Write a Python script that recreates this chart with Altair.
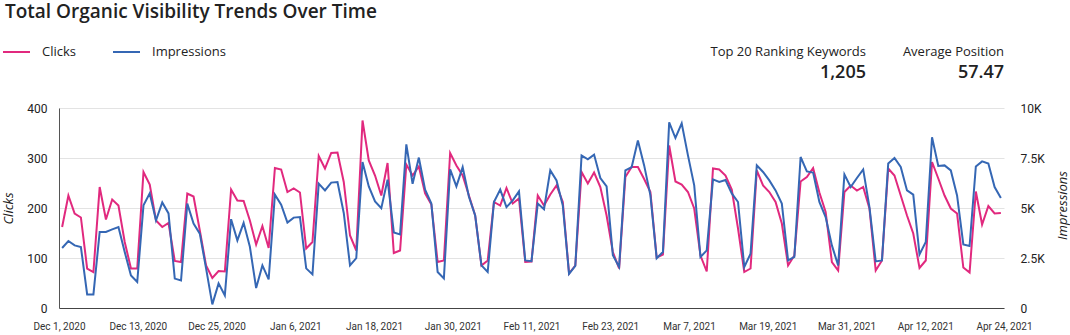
import altair as alt
import pandas as pd

# ---------------- data ----------------
x_labels = ["Dec 1, 2020", "Dec 13, 2020", "Dec 25, 2020", "Jan 6, 2021", "Jan 18, 2021",
            "Jan 30, 2021", "Feb 11, 2021", "Feb 23, 2021", "Mar 7, 2021", "Mar 19, 2021",
            "Mar 31, 2021", "Apr 12, 2021", "Apr 24, 2021"]

clicks = [162, 225, 189, 181, 79, 72, 242, 177, 217, 205, 132, 79, 79, 272, 247,
          175, 162, 170, 94, 92, 229, 223, 155, 85, 60, 74, 73, 237, 215, 214,
          175, 127, 164, 120, 280, 277, 232, 239, 231, 119, 132, 304, 279, 310, 311,
          252, 145, 115, 375, 295, 265, 225, 290, 110, 115, 287, 265, 283, 229, 207,
          92, 95, 310, 285, 265, 225, 185, 85, 95, 212, 205, 240, 209, 219, 92,
          93, 225, 205, 227, 245, 212, 69, 85, 272, 249, 271, 242, 185, 112, 79,
          262, 282, 282, 258, 232, 101, 107, 325, 253, 247, 232, 199, 105, 73, 279,
          277, 265, 237, 159, 72, 79, 275, 245, 232, 212, 169, 85, 105, 253, 262,
          280, 231, 192, 92, 75, 232, 245, 235, 242, 199, 75, 95, 279, 265, 225,
          185, 149, 80, 95, 292, 259, 225, 199, 189, 81, 71, 233, 167, 204, 189,
          190]

impressions = [3000, 3350, 3130, 3050, 680, 680, 3800, 3800, 3930, 4050, 2800, 1630, 1300, 5130, 5730,
               4380, 5280, 4730, 1470, 1380, 5220, 4220, 3720, 1980, 180, 1230, 630, 4440, 3380, 4260,
               3060, 1000, 2130, 1430, 5670, 5170, 4270, 4520, 4550, 1980, 1680, 6220, 5880, 6270, 6300,
               4750, 2130, 2490, 7300, 6080, 5330, 4990, 6420, 3780, 3680, 8180, 6210, 7520, 5920, 5220,
               1800, 1480, 6930, 6080, 7040, 5560, 4630, 2130, 1800, 5300, 5920, 5040, 5380, 5830, 2380,
               2340, 5220, 4940, 6880, 6380, 5130, 1710, 2110, 7630, 7430, 7670, 6500, 6080, 2640, 2050,
               6880, 7040, 8380, 7130, 5630, 2490, 2800, 9280, 8500, 9230, 7630, 6130, 2550, 2880, 6430,
               6300, 6400, 5730, 5300, 2050, 2710, 7130, 6800, 6380, 5880, 5220, 2380, 2550, 7550, 6830,
               6770, 5300, 4550, 3130, 2130, 6680, 6050, 6500, 6930, 5040, 2330, 2380, 7230, 7500, 7050,
               5880, 5670, 2680, 3300, 8540, 7100, 7130, 6880, 5630, 3180, 3100, 7080, 7330, 7220, 6050,
               5500]

series_names = ["Clicks", "Impressions"]
series_colors = ["#e1297e", "#3567b4"]

title_text = "Total Organic Visibility Trends Over Time"
kpi_labels = ["Top 20 Ranking Keywords", "Average Position"]
kpi_values = ["1,205", "57.47"]

# ---------------- table ----------------
n = len(clicks)
dates = pd.date_range("2020-12-01", periods=n, freq="D")
df = pd.DataFrame({
    "day": list(range(n)),
    "date": dates.strftime("%b %-d, %Y"),
    "clicks": clicks,
    "impressions": impressions,
})

W, H = 945, 200
FONT = "Open Sans"
AXFONT = "Roboto"
TXT = "#222222"

tick_vals = [-0.5 + k * n / 12 for k in range(13)]
label_expr = ("[" + ",".join("'" + s + "'" for s in x_labels) + "]"
              + "[round((datum.value + 0.5) * 12 / " + str(n) + ")]")

x_enc = alt.X(
    "day:Q",
    scale=alt.Scale(domain=[-0.5, n - 0.5], nice=False, zero=False),
    axis=alt.Axis(values=tick_vals, labelExpr=label_expr, grid=False, ticks=False,
                  domain=True, domainColor="#444444", domainWidth=1,
                  labelFont=AXFONT, labelFontSize=10, labelColor="#333333",
                  labelPadding=13, labelOverlap=False, labelFlush=False, title=None),
)

base = alt.Chart(df)

clicks_line = base.mark_line(strokeWidth=2, color=series_colors[0]).encode(
    x=x_enc,
    y=alt.Y("clicks:Q",
            scale=alt.Scale(domain=[0, 400], nice=False),
            axis=alt.Axis(values=[0, 100, 200, 300, 400], title="Clicks",
                          titleFont=FONT, titleFontStyle="italic", titleFontWeight="normal",
                          titleFontSize=13, titleColor=TXT, titleAngle=270,
                          titleX=-51, titleY=H / 2, titleAlign="center", titleBaseline="middle",
                          grid=True, gridColor="#e3e3e3", ticks=False,
                          domain=True, domainColor="#555555",
                          labelFont=AXFONT, labelFontSize=12, labelColor=TXT,
                          labelPadding=12)),
)

impr_line = base.mark_line(strokeWidth=2, color=series_colors[1]).encode(
    x=x_enc,
    y=alt.Y("impressions:Q",
            scale=alt.Scale(domain=[0, 10000], nice=False),
            axis=alt.Axis(orient="right", values=[0, 2500, 5000, 7500, 10000],
                          labelExpr="datum.value == 0 ? '0' : format(datum.value / 1000, '~g') + 'K'",
                          title="Impressions",
                          titleFont=FONT, titleFontStyle="italic", titleFontWeight="normal",
                          titleFontSize=13, titleColor=TXT, titleAngle=270,
                          titleX=58, titleY=H / 2 - 3, titleAlign="center", titleBaseline="middle",
                          grid=False, ticks=False, domain=False,
                          labelFont=AXFONT, labelFontSize=12, labelColor=TXT,
                          labelPadding=16)),
)


def text_layer(txt, x, y, size, weight="normal", align="left", baseline="alphabetic"):
    return alt.Chart(pd.DataFrame({"t": [txt]})).mark_text(
        align=align, baseline=baseline, font=FONT, fontSize=size,
        fontWeight=weight, color=TXT,
    ).encode(text="t:N", x=alt.value(x), y=alt.value(y))


def legend_swatch(color, x1, x2, y):
    return alt.Chart(pd.DataFrame({"s": [0]})).mark_rule(
        color=color, strokeWidth=2
    ).encode(x=alt.value(x1), x2=alt.value(x2), y=alt.value(y))


texts = [
    text_layer(title_text, -54, -90, 19, weight=600),
    text_layer(kpi_labels[0], 807, -52, 13, align="right"),
    text_layer(kpi_values[0], 807, -30, 18, weight=600, align="right"),
    text_layer(kpi_labels[1], 945, -52, 13, align="right"),
    text_layer(kpi_values[1], 945, -30, 18, weight=600, align="right"),
    legend_swatch(series_colors[0], -56, -29, -56),
    text_layer(series_names[0], -17, -56, 13, baseline="middle"),
    legend_swatch(series_colors[1], 54, 81, -56),
    text_layer(series_names[1], 93, -56, 13, baseline="middle"),
]

lines = alt.layer(clicks_line, impr_line).resolve_scale(y="independent")

chart = alt.layer(lines, *texts).properties(
    width=W, height=H,
    padding={"left": 59, "top": 108, "right": 66, "bottom": 27},
    autosize=alt.AutoSizeParams(type="none"),
    background="white",
).configure_view(stroke=None)

chart.save("out.html", embed_options={"renderer": "svg", "actions": False})
